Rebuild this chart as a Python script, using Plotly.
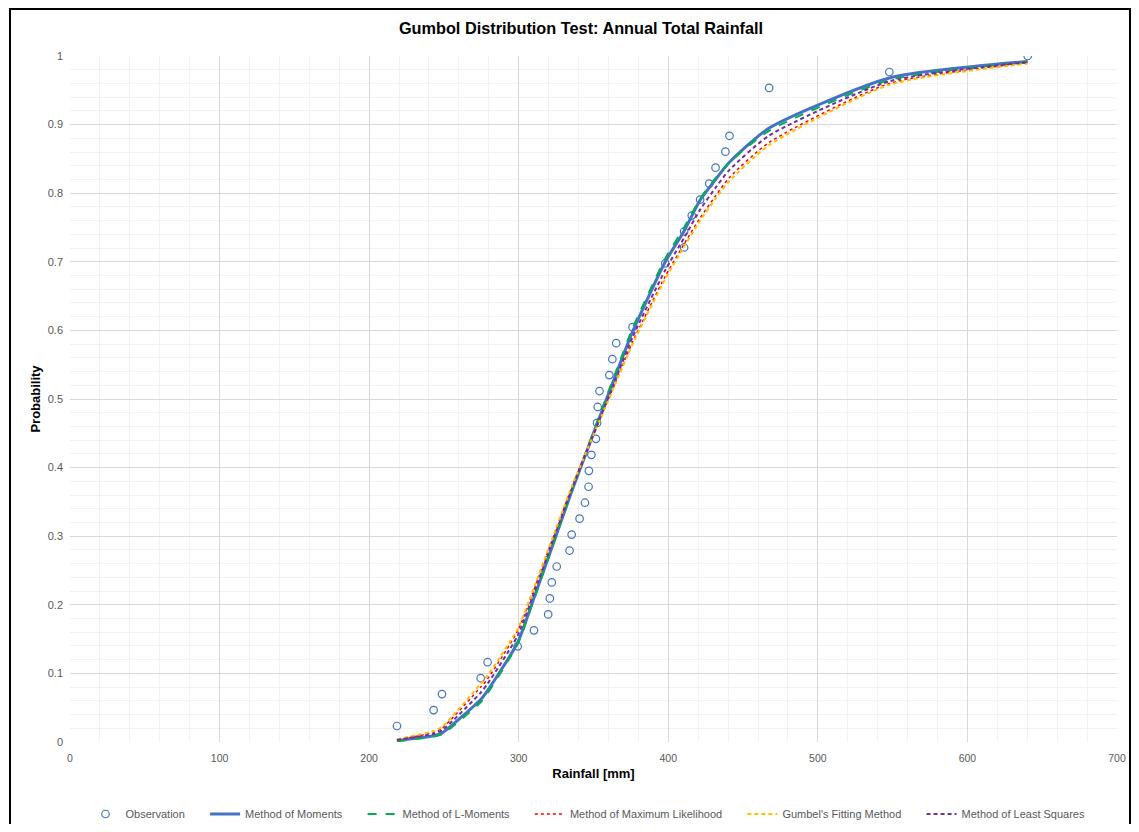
import plotly.graph_objects as go

# Observations (rainfall mm, empirical probability)
obs_rain = [218.6, 243.1, 248.7, 274.6, 279.2, 299.3, 310.2, 319.7, 320.8, 322.1,
            325.4, 334.0, 335.4, 340.7, 344.3, 346.7, 346.9, 348.6, 351.6, 352.4,
            352.8, 354.0, 360.6, 362.6, 365.2, 376.1, 398.0, 410.6, 410.6, 415.7,
            421.3, 427.4, 431.6, 438.2, 440.9, 467.4, 547.8, 640.3]
obs_prob = [0.0233, 0.0465, 0.0698, 0.0930, 0.1163, 0.1395, 0.1628, 0.1860, 0.2093, 0.2326,
            0.2558, 0.2791, 0.3023, 0.3256, 0.3488, 0.3721, 0.3953, 0.4186, 0.4419, 0.4651,
            0.4884, 0.5116, 0.5349, 0.5581, 0.5814, 0.6047, 0.6977, 0.7209, 0.7442, 0.7674,
            0.7907, 0.8140, 0.8372, 0.8605, 0.8837, 0.9535, 0.9767, 1.0]

# Fitted curves evaluated at rainfall values
fit_rain = [218.6, 243.1, 248.7, 274.6, 279.2, 299.3, 310.2, 320.8, 335.4, 346.9,
            354.0, 365.2, 376.1, 398.0, 410.6, 421.3, 431.6, 440.9, 467.4, 547.8, 640.3]
mom = [0.002, 0.009, 0.013, 0.062, 0.075, 0.145, 0.210, 0.275, 0.365, 0.432,
       0.473, 0.537, 0.598, 0.700, 0.745, 0.790, 0.820, 0.845, 0.895, 0.968, 0.992]
lmom = [0.001, 0.008, 0.011, 0.058, 0.071, 0.143, 0.208, 0.274, 0.366, 0.434,
        0.476, 0.541, 0.603, 0.705, 0.750, 0.792, 0.822, 0.845, 0.891, 0.965, 0.991]
mle = [0.003, 0.014, 0.020, 0.080, 0.092, 0.162, 0.222, 0.285, 0.371, 0.432,
       0.469, 0.527, 0.583, 0.679, 0.726, 0.764, 0.796, 0.823, 0.874, 0.960, 0.990]
gumbel_fit = [0.004, 0.016, 0.022, 0.085, 0.097, 0.165, 0.225, 0.287, 0.372, 0.432,
              0.468, 0.525, 0.580, 0.675, 0.722, 0.760, 0.792, 0.818, 0.870, 0.958, 0.989]
lsq = [0.003, 0.012, 0.017, 0.072, 0.085, 0.155, 0.217, 0.281, 0.368, 0.432,
       0.470, 0.531, 0.590, 0.688, 0.735, 0.776, 0.808, 0.834, 0.884, 0.963, 0.991]

series_names = ["Observation", "Method of Moments", "Method of L-Moments",
                "Method of Maximum Likelihood", "Gumbel's Fitting Method",
                "Method of Least Squares"]

x_ticks = [0, 100, 200, 300, 400, 500, 600, 700]
y_ticks = [0, 0.1, 0.2, 0.3, 0.4, 0.5, 0.6, 0.7, 0.8, 0.9, 1]
y_tick_text = ["0", "0.1", "0.2", "0.3", "0.4", "0.5", "0.6", "0.7", "0.8", "0.9", "1"]

FONT = "Liberation Sans"
PAD = "\u00a0" * 5  # extra legend spacing
SPL = dict(shape="spline", smoothing=0.6)
fig = go.Figure()
fig.add_trace(go.Scatter(x=obs_rain, y=obs_prob, mode="markers", name=series_names[0] + PAD,
                         marker=dict(symbol="circle-open", size=7.5, color="#4472C4",
                                     line=dict(width=1.2, color="#4472C4"))))
fig.add_trace(go.Scatter(x=fit_rain, y=mom, mode="lines", name=series_names[1] + PAD,
                         line=dict(color="#4472C4", width=3, **SPL)))
fig.add_trace(go.Scatter(x=fit_rain, y=lmom, mode="lines", name=series_names[2] + PAD,
                         line=dict(color="#00B050", width=2, dash="dash", **SPL)))
fig.add_trace(go.Scatter(x=fit_rain, y=mle, mode="lines", name=series_names[3] + PAD,
                         line=dict(color="#FF0000", width=1.5, dash="dot", **SPL)))
fig.add_trace(go.Scatter(x=fit_rain, y=gumbel_fit, mode="lines", name=series_names[4] + PAD,
                         line=dict(color="#FFC000", width=2, dash="4px,3px", **SPL)))
fig.add_trace(go.Scatter(x=fit_rain, y=lsq, mode="lines", name=series_names[5],
                         line=dict(color="#7030A0", width=2, dash="4px,3px", **SPL)))

# page has an 8px body margin; figure coordinates = page coordinates - 8
OFF = 8
W, H = 1139 - 2 * OFF, 832 - 2 * OFF
L = 70 - OFF
T = 48
R = W - (1117 - OFF)
B = H - (742 - OFF)
pw, ph = W - L - R, H - T - B

def px(xp):
    return (xp - OFF - L) / pw

def py(yp):
    return (H - B - (yp - OFF)) / ph

fig.update_layout(
    width=W, height=H,
    margin=dict(l=L, r=R, t=T, b=B, autoexpand=False),
    paper_bgcolor="white", plot_bgcolor="white",
    font=dict(family=FONT, size=11, color="#595959"),
    title=dict(text="<b>Gumbol Distribution Test: Annual Total Rainfall</b>",
               x=(581 - OFF) / W, xref="container", xanchor="center",
               y=1 - (28 - OFF) / H, yref="container", yanchor="middle",
               font=dict(family=FONT, size=16.3, color="#000000")),
    xaxis=dict(range=[0, 700], tickvals=x_ticks, showgrid=True, gridcolor="#D9D9D9",
               gridwidth=1, zeroline=False, showline=False, ticks="",
               ticklabelstandoff=8, automargin=False, ticklabeloverflow="allow",
               tickfont=dict(size=10.5, color="#595959"),
               minor=dict(dtick=20, showgrid=True, gridcolor="#F2F2F2", gridwidth=1),
               title=dict(text="<b>Rainfall [mm]</b>", standoff=6,
                          font=dict(size=13, color="#000000"))),
    yaxis=dict(range=[0, 1], tickvals=y_ticks, ticktext=y_tick_text, showgrid=True,
               gridcolor="#D9D9D9", gridwidth=1, zeroline=False, showline=False, ticks="",
               ticklabelstandoff=6, automargin=False,
               tickfont=dict(size=11, color="#595959"),
               minor=dict(dtick=0.02, showgrid=True, gridcolor="#F2F2F2", gridwidth=1),
               title=dict(text="<b>Probability</b>", standoff=4,
                          font=dict(size=13, color="#000000"))),
    legend=dict(orientation="h", x=(588 - OFF) / W, xref="container", xanchor="center",
                y=(H - (814 - OFF)) / H, yref="container", yanchor="middle",
                font=dict(size=11, color="#595959"), itemwidth=30, traceorder="normal"),
    shapes=[dict(type="rect", xref="paper", yref="paper",
                 x0=px(10), x1=px(1130), y0=py(900), y1=py(9),
                 line=dict(color="black", width=2), fillcolor="rgba(0,0,0,0)", layer="below")],
)

fig.write_html("out.html")
